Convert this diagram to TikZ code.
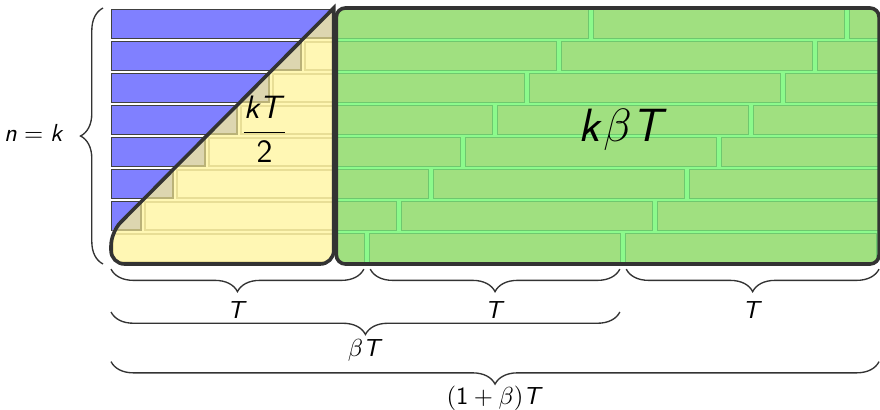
\documentclass[tikz,border=0pt,11pt]{standalone}
\usepackage{amsmath}
\usepackage{tikz}
\usetikzlibrary{decorations.pathreplacing}
\DeclareMathAlphabet{\mathsfit}{OT1}{cmss}{m}{sl}
\definecolor{jobblue}{RGB}{128,128,255}
\definecolor{jobyellow}{RGB}{255,247,180}
\definecolor{edgeyellow}{RGB}{232,222,150}
\definecolor{jobtan}{RGB}{221,214,176}
\definecolor{jobgreen}{RGB}{160,224,128}
\definecolor{edgegreen}{RGB}{110,200,110}
\definecolor{gapgreen}{RGB}{140,250,140}

\tikzset{
  bluebar/.style={fill=jobblue, draw=black!75, line width=0.6pt},
  yellowbrick/.style={fill=jobyellow, draw=edgeyellow, line width=0.6pt},
  tanbrick/.style={fill=jobtan, draw=edgeyellow!80!black, line width=0.6pt},
  greenbrick/.style={fill=jobgreen, draw=edgegreen, line width=0.6pt},
  frame/.style={draw=black!80, line width=1.6pt},
  upbrace/.style={decorate, decoration={brace, amplitude=10pt}, draw=black!80, line width=0.6pt},
  downbrace/.style={decorate, decoration={brace, mirror, amplitude=10pt}, draw=black!80, line width=0.6pt}
}

\begin{document}
\begin{tikzpicture}[x=0.5cm, y=0.5cm]
\useasboundingbox (-3.47,-4.56) rectangle (24.03,8.25);
% blue bars above the diagonal
\begin{scope}
\clip (0,1) -- (7,8) -- (0,8.2) -- cycle;
\foreach \j in {1,...,7}
  \draw[bluebar] (0,\j+0.05) rectangle (7.5,\j+0.96);
\end{scope}
% yellow part
\begin{scope}
\clip (6.96,8) [rounded corners=6pt] -- (0,1) -- (0,0) -- (6.96,0) [sharp corners] -- cycle;
\fill[jobyellow] (0,0) rectangle (7,8);
\foreach \j in {0,...,7} {
  \draw[tanbrick] (\j-7.94,\j+0.06) rectangle (\j-0.06,\j+0.94);
  \draw[yellowbrick] (\j+0.06,\j+0.06) rectangle (\j+7.94,\j+0.94);
}
\end{scope}
\draw[frame] (6.96,8) [rounded corners=6pt] -- (0,1) -- (0,0) -- (6.96,0) [sharp corners] -- cycle;
% green part
\begin{scope}
\clip[rounded corners=4pt] (7.04,0) rectangle (24,8);
\fill[gapgreen] (7,0) rectangle (24,8);
\foreach \j in {0,...,7}
  \foreach \a in {-8,0,8,16}
    \draw[greenbrick] (\j+\a+0.07,\j+0.05) rectangle (\j+\a+7.93,\j+0.95);
\end{scope}
\draw[frame, rounded corners=4pt] (7.04,0) rectangle (24,8);
% labels inside
\node (kT) at (4.8,4.2) {\Large $\dfrac{\mathsfit{kT}}{\mathsf{2}}$};
\node (kbT) at (16,4.2) {\huge $\mathsfit{k}\beta\mathsfit{T}$};
% left brace
\coordinate (l0) at (-0.25,0);
\coordinate (l1) at (-0.25,8);
\draw[upbrace] (l0) -- (l1);
\node (nk) at (-2.4,4.1) {$\mathsfit{n}=\mathsfit{k}$};
% braces below
\coordinate (a0) at (0,-0.16);
\coordinate (a1) at (7.9,-0.16);
\coordinate (b0) at (8.1,-0.16);
\coordinate (b1) at (15.9,-0.16);
\coordinate (c0) at (16.1,-0.16);
\coordinate (c1) at (24,-0.16);
\draw[downbrace] (a0) -- (a1);
\draw[downbrace] (b0) -- (b1);
\draw[downbrace] (c0) -- (c1);
\node (ta) at (3.95,-1.45) {$\mathsfit{T}$};
\node (tb) at (12,-1.45) {$\mathsfit{T}$};
\node (tc) at (20.05,-1.45) {$\mathsfit{T}$};
\coordinate (d0) at (0,-1.5);
\coordinate (d1) at (15.9,-1.5);
\draw[downbrace] (d0) -- (d1);
\node (bT) at (7.95,-2.7) {$\beta\mathsfit{T}$};
\coordinate (e0) at (0,-3.05);
\coordinate (e1) at (24,-3.05);
\draw[downbrace] (e0) -- (e1);
\node (obT) at (12,-4.2) {$(\mathsf{1}+\beta)\mathsfit{T}$};
\end{tikzpicture}
\end{document}
